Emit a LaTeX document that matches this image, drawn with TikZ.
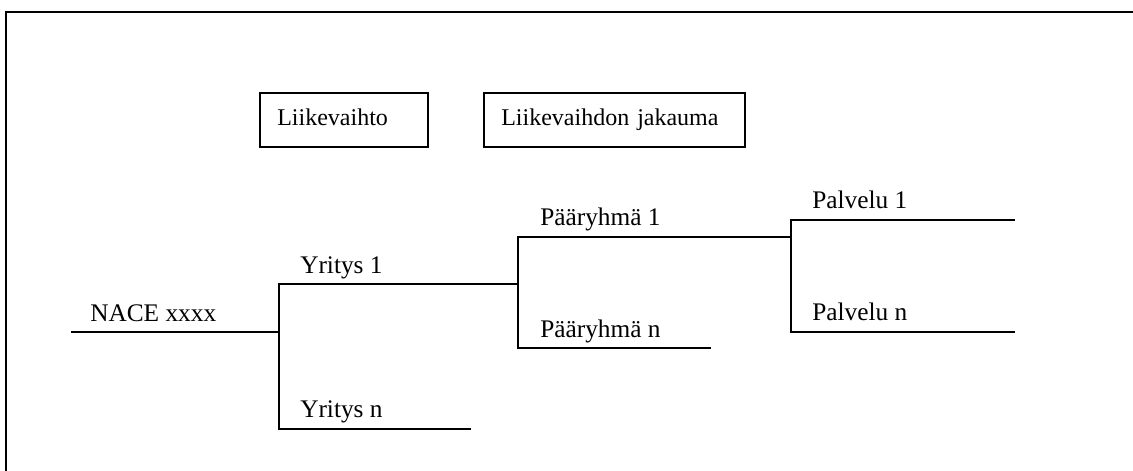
\documentclass[tikz,border=0pt]{standalone}
\usepackage{fontspec}
\setmainfont{Liberation Serif}
\usepackage{tikz}
\usetikzlibrary{positioning}

\begin{document}
\begin{tikzpicture}[
    x=0.75pt, y=-0.75pt,
    font=\fontsize{19}{22}\selectfont,
    box/.style={rectangle, draw, line width=1.4pt, anchor=north west, minimum height=40.5pt, inner xsep=13pt, inner ysep=0pt, text height=13pt, text depth=4pt, align=left, font=\fontsize{18}{21}\selectfont},
    label/.style={anchor=base west, inner sep=0pt},
    line/.style={line width=1.4pt}
]
\useasboundingbox (0,0) rectangle (1133,471);

% Frame
\draw[line width=1.6pt] (6,480) -- (6,12) -- (1140,12);

% Nodes
\node[box, text width=100pt] (turnover) at (259,92) {Liikevaihto};
\node[box, text width=170pt] (split) at (483,92) {Liikevaihdon jakauma};

\coordinate (start) at (71,332);
\coordinate (j1) at (279,332);
\coordinate (y1) at (279,284);
\coordinate (yn) at (279,429);
\coordinate (y1end) at (518,284);
\coordinate (ynend) at (471,429);
\coordinate (p1) at (518,237);
\coordinate (pn) at (518,348);
\coordinate (p1end) at (791,237);
\coordinate (pnend) at (711,348);
\coordinate (s1) at (791,220);
\coordinate (sn) at (791,332);
\coordinate (s1end) at (1015,220);
\coordinate (snend) at (1015,332);

\node[label] (nace) at (90,321) {NACE xxxx};
\node[label] (firm1) at (300,273) {Yritys 1};
\node[label] (firmn) at (300,417) {Yritys n};
\node[label] (group1) at (540,225) {Pääryhmä 1};
\node[label] (groupn) at (540,337) {Pääryhmä n};
\node[label] (serv1) at (812,208) {Palvelu 1};
\node[label] (servn) at (812,320) {Palvelu n};

% Lines
\draw[line] (start) -- (j1);
\draw[line] (ynend) -- (yn) -- (y1) -- (y1end);
\draw[line] (pnend) -- (pn) -- (p1) -- (p1end);
\draw[line] (snend) -- (sn) -- (s1) -- (s1end);

\end{tikzpicture}
\end{document}
